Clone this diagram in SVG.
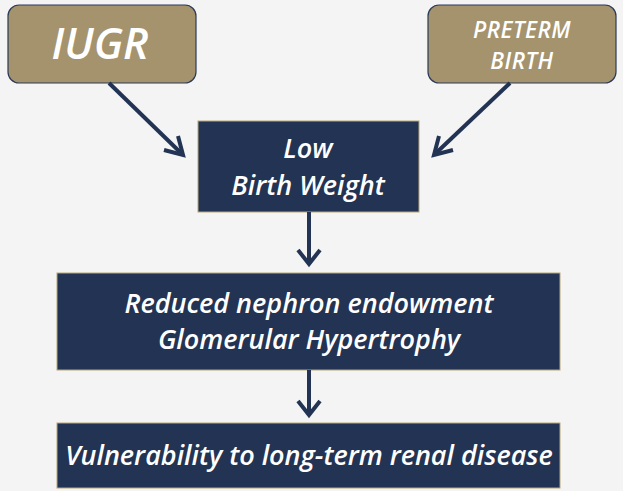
<svg xmlns="http://www.w3.org/2000/svg" width="623" height="491" viewBox="0 0 623 491">
<style>
.tan{fill:#a4936d;stroke:#2a3a58;stroke-width:1.2}
.navy{fill:#223354;stroke:#b8a57a;stroke-width:1}
text{font-family:"Open Sans","Liberation Sans",sans-serif;font-style:italic;font-weight:600;fill:#fff;text-anchor:middle}
.c{stroke:#223354;stroke-width:4;fill:none}
</style>
<rect width="623" height="491" fill="#f4f4f4"/>
<g id="iugr"><rect class="tan" x="8" y="5" width="188" height="78" rx="11"/><text x="100" y="59" font-size="43">IUGR</text></g>
<g id="preterm"><rect class="tan" x="428" y="5" width="188" height="78" rx="11"/><text x="522" y="38" font-size="22.5" letter-spacing="0.5">PRETERM</text><text x="522" y="69" font-size="22.5" letter-spacing="0.5">BIRTH</text></g>
<g id="lbw"><rect class="navy" x="198" y="121" width="221" height="91"/><text x="308" y="158" font-size="27">Low</text><text x="308" y="195" font-size="27">Birth Weight</text></g>
<g id="reduced"><rect class="navy" x="57" y="273" width="503" height="97"/><text x="309" y="313" font-size="27">Reduced nephron endowment</text><text x="309" y="349" font-size="27">Glomerular Hypertrophy</text></g>
<g id="vuln"><rect class="navy" x="57" y="423" width="503" height="65"/><text x="309" y="465" font-size="27">Vulnerability to long-term renal disease</text></g>
<g id="connectors">
<path class="c" d="M109,83 L182,154"/><path class="c" d="M164,150 L183,155 L178,136"/>
<path class="c" d="M510,83 L435,154"/><path class="c" d="M453,150 L434,155 L439,136"/>
<path class="c" d="M309,212 L309,263"/><path class="c" d="M298,250 L309,264 L320,250"/>
<path class="c" d="M309,370 L309,414"/><path class="c" d="M298,401 L309,415 L320,401"/>
</g>
</svg>
